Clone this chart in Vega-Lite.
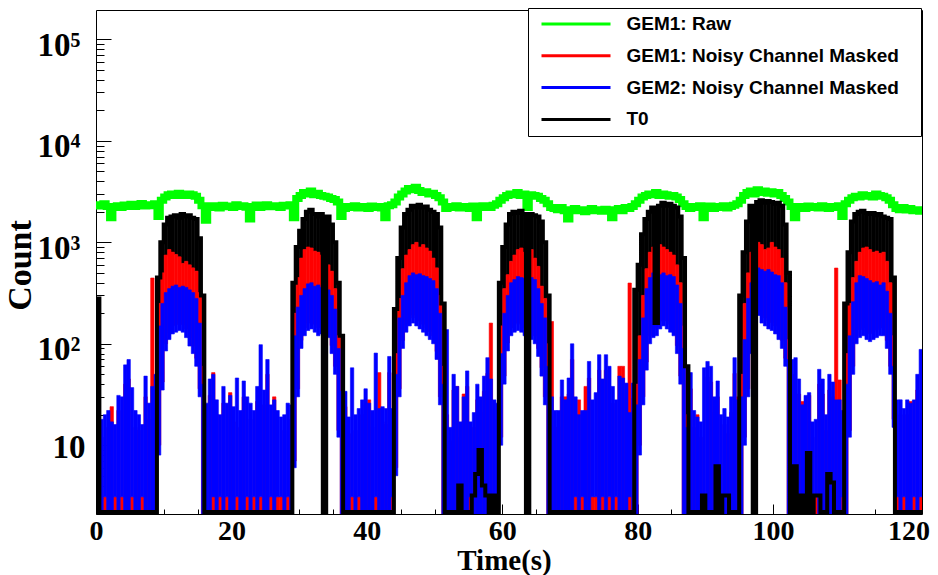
{
  "$schema": "https://vega.github.io/schema/vega-lite/v6.json",
  "width": 826,
  "height": 504,
  "autosize": "none",
  "padding": {"left": 96, "top": 10, "right": 16, "bottom": 61},
  "background": "white",
  "data": {"values": [
    {"t":0,"g":2350,"k":280,"rh":1,"rl":1,"bh":1,"bl":1},
    {"t":0.5,"g":2280,"k":2.2,"rh":12,"rl":1,"bh":18,"bl":1},
    {"t":1,"g":2400,"k":2.2,"rh":3.1,"rl":1,"bh":20,"bl":3.1},
    {"t":1.5,"g":2250,"k":2.2,"rh":15,"rl":1,"bh":22,"bl":1},
    {"t":2,"g":1750,"k":2.2,"rh":24,"rl":1,"bh":17,"bl":1},
    {"t":2.5,"g":2220,"k":2.2,"rh":3.1,"rl":1,"bh":16,"bl":3.1},
    {"t":3,"g":2300,"k":2.2,"rh":22,"rl":1,"bh":31,"bl":1},
    {"t":3.5,"g":2200,"k":2.2,"rh":3.1,"rl":1,"bh":30,"bl":3.1},
    {"t":4,"g":2330,"k":2.2,"rh":40,"rl":1,"bh":62,"bl":1},
    {"t":4.5,"g":2250,"k":2.2,"rh":45,"rl":1,"bh":70,"bl":1},
    {"t":5,"g":2380,"k":2.2,"rh":3.1,"rl":1,"bh":37,"bl":3.1},
    {"t":5.5,"g":2260,"k":2.2,"rh":15,"rl":1,"bh":22,"bl":1},
    {"t":6,"g":2310,"k":2.2,"rh":14,"rl":1,"bh":20,"bl":1},
    {"t":6.5,"g":2420,"k":2.2,"rh":3.1,"rl":1,"bh":16,"bl":3.1},
    {"t":7,"g":2280,"k":2.2,"rh":30,"rl":1,"bh":48,"bl":1},
    {"t":7.5,"g":2350,"k":2.2,"rh":18,"rl":1,"bh":26,"bl":1},
    {"t":8,"g":2300,"k":2.2,"rh":445,"rl":1,"bh":38,"bl":1},
    {"t":8.5,"g":2400,"k":2.2,"rh":35,"rl":1,"bh":50,"bl":1},
    {"t":9,"g":1800,"k":450,"rh":250,"rl":10,"bh":150,"bl":8},
    {"t":9.5,"g":2600,"k":1000,"rh":500,"rl":42,"bh":250,"bl":35},
    {"t":10,"g":2800,"k":1500,"rh":750,"rl":100,"bh":320,"bl":85},
    {"t":10.5,"g":2950,"k":1750,"rh":850,"rl":130,"bh":350,"bl":110},
    {"t":11,"g":3000,"k":1800,"rh":800,"rl":150,"bh":370,"bl":125},
    {"t":11.5,"g":2900,"k":1850,"rh":760,"rl":155,"bh":380,"bl":130},
    {"t":12,"g":3050,"k":1750,"rh":720,"rl":160,"bh":360,"bl":135},
    {"t":12.5,"g":2950,"k":1900,"rh":620,"rl":155,"bh":370,"bl":130},
    {"t":13,"g":2900,"k":1800,"rh":650,"rl":140,"bh":360,"bl":115},
    {"t":13.5,"g":3000,"k":1850,"rh":600,"rl":115,"bh":340,"bl":95},
    {"t":14,"g":2950,"k":1750,"rh":560,"rl":95,"bh":320,"bl":80},
    {"t":14.5,"g":2850,"k":1700,"rh":520,"rl":72,"bh":280,"bl":60},
    {"t":15,"g":2600,"k":1100,"rh":320,"rl":36,"bh":160,"bl":30},
    {"t":15.5,"g":2300,"k":300,"rh":60,"rl":1,"bh":40,"bl":1},
    {"t":16,"g":1650,"k":2.2,"rh":18,"rl":1,"bh":26,"bl":1},
    {"t":16.5,"g":2200,"k":2.2,"rh":31,"rl":1,"bh":45,"bl":1},
    {"t":17,"g":2300,"k":2.2,"rh":52,"rl":1,"bh":50,"bl":3.1},
    {"t":17.5,"g":2250,"k":2.2,"rh":20,"rl":1,"bh":28,"bl":1},
    {"t":18,"g":2180,"k":2.2,"rh":3.1,"rl":1,"bh":20,"bl":3.1},
    {"t":18.5,"g":2320,"k":2.2,"rh":26,"rl":1,"bh":38,"bl":1},
    {"t":19,"g":2240,"k":2.2,"rh":3.1,"rl":1,"bh":26,"bl":3.1},
    {"t":19.5,"g":2280,"k":2.2,"rh":33,"rl":1,"bh":31,"bl":1},
    {"t":20,"g":2200,"k":2.2,"rh":17,"rl":1,"bh":24,"bl":1},
    {"t":20.5,"g":2350,"k":2.2,"rh":3.1,"rl":1,"bh":46,"bl":3.1},
    {"t":21,"g":2260,"k":2.2,"rh":15,"rl":1,"bh":22,"bl":1},
    {"t":21.5,"g":2300,"k":2.2,"rh":30,"rl":1,"bh":43,"bl":1},
    {"t":22,"g":2220,"k":2.2,"rh":3.1,"rl":1,"bh":30,"bl":3.1},
    {"t":22.5,"g":1700,"k":2.2,"rh":18,"rl":1,"bh":26,"bl":1},
    {"t":23,"g":2250,"k":2.2,"rh":3.1,"rl":1,"bh":22,"bl":3.1},
    {"t":23.5,"g":2330,"k":2.2,"rh":27,"rl":1,"bh":38,"bl":1},
    {"t":24,"g":2200,"k":2.2,"rh":3.1,"rl":1,"bh":98,"bl":3.1},
    {"t":24.5,"g":2280,"k":2.2,"rh":25,"rl":1,"bh":35,"bl":1},
    {"t":25,"g":2350,"k":2.2,"rh":50,"rl":1,"bh":70,"bl":1},
    {"t":25.5,"g":2240,"k":2.2,"rh":3.1,"rl":1,"bh":25,"bl":3.1},
    {"t":26,"g":2300,"k":2.2,"rh":30,"rl":1,"bh":28,"bl":1},
    {"t":26.5,"g":2260,"k":2.2,"rh":3.1,"rl":1,"bh":22,"bl":3.1},
    {"t":27,"g":2200,"k":2.2,"rh":3.1,"rl":1,"bh":19,"bl":3.1},
    {"t":27.5,"g":2320,"k":2.2,"rh":14,"rl":1,"bh":20,"bl":1},
    {"t":28,"g":2280,"k":2.2,"rh":3.1,"rl":1,"bh":26,"bl":3.1},
    {"t":28.5,"g":2350,"k":2.2,"rh":18,"rl":1,"bh":25,"bl":1},
    {"t":29,"g":1750,"k":400,"rh":200,"rl":7,"bh":120,"bl":6},
    {"t":29.5,"g":2700,"k":900,"rh":450,"rl":36,"bh":230,"bl":30},
    {"t":30,"g":2900,"k":1300,"rh":700,"rl":108,"bh":300,"bl":90},
    {"t":30.5,"g":3100,"k":1700,"rh":850,"rl":144,"bh":350,"bl":120},
    {"t":31,"g":3000,"k":2000,"rh":900,"rl":160,"bh":390,"bl":135},
    {"t":31.5,"g":3200,"k":2100,"rh":880,"rl":168,"bh":400,"bl":140},
    {"t":32,"g":2950,"k":1900,"rh":820,"rl":156,"bh":370,"bl":130},
    {"t":32.5,"g":3050,"k":1800,"rh":800,"rl":144,"bh":380,"bl":120},
    {"t":33,"g":2900,"k":1900,"rh":750,"rl":150,"bh":360,"bl":125},
    {"t":33.5,"g":2850,"k":2.2,"rh":700,"rl":156,"bh":350,"bl":130},
    {"t":34,"g":2800,"k":1800,"rh":600,"rl":138,"bh":340,"bl":115},
    {"t":34.5,"g":2700,"k":1500,"rh":520,"rl":96,"bh":300,"bl":80},
    {"t":35,"g":2650,"k":1000,"rh":350,"rl":60,"bh":220,"bl":50},
    {"t":35.5,"g":2500,"k":400,"rh":120,"rl":14,"bh":90,"bl":12},
    {"t":36,"g":1800,"k":120,"rh":30,"rl":1,"bh":34,"bl":1},
    {"t":36.5,"g":2150,"k":2.2,"rh":24,"rl":1,"bh":34,"bl":1},
    {"t":37,"g":2250,"k":2.2,"rh":13,"rl":1,"bh":19,"bl":1},
    {"t":37.5,"g":2200,"k":2.2,"rh":3.1,"rl":1,"bh":58,"bl":3.1},
    {"t":38,"g":2300,"k":2.2,"rh":14,"rl":1,"bh":20,"bl":1},
    {"t":38.5,"g":2180,"k":2.2,"rh":3.1,"rl":1,"bh":23,"bl":3.1},
    {"t":39,"g":2250,"k":2.2,"rh":20,"rl":1,"bh":28,"bl":1},
    {"t":39.5,"g":2220,"k":2.2,"rh":25,"rl":1,"bh":36,"bl":1},
    {"t":40,"g":2150,"k":2.2,"rh":28,"rl":1,"bh":26,"bl":1},
    {"t":40.5,"g":2280,"k":2.2,"rh":15,"rl":1,"bh":22,"bl":1},
    {"t":41,"g":2200,"k":2.2,"rh":3.1,"rl":1,"bh":81,"bl":3.1},
    {"t":41.5,"g":2250,"k":2.2,"rh":52,"rl":1,"bh":23,"bl":1},
    {"t":42,"g":2180,"k":2.2,"rh":17,"rl":1,"bh":24,"bl":1},
    {"t":42.5,"g":1750,"k":2.2,"rh":16,"rl":1,"bh":23,"bl":1},
    {"t":43,"g":2300,"k":2.2,"rh":52,"rl":1,"bh":75,"bl":1},
    {"t":43.5,"g":2350,"k":2.2,"rh":3.1,"rl":1,"bh":23,"bl":3.1},
    {"t":44,"g":2500,"k":220,"rh":80,"rl":6,"bh":50,"bl":5},
    {"t":44.5,"g":2800,"k":700,"rh":280,"rl":36,"bh":180,"bl":30},
    {"t":45,"g":3000,"k":1400,"rh":550,"rl":108,"bh":300,"bl":90},
    {"t":45.5,"g":3200,"k":1900,"rh":750,"rl":156,"bh":400,"bl":130},
    {"t":46,"g":3400,"k":2100,"rh":850,"rl":180,"bh":470,"bl":150},
    {"t":46.5,"g":3300,"k":2300,"rh":950,"rl":192,"bh":500,"bl":160},
    {"t":47,"g":3500,"k":2200,"rh":1000,"rl":180,"bh":480,"bl":150},
    {"t":47.5,"g":3250,"k":2350,"rh":900,"rl":168,"bh":490,"bl":140},
    {"t":48,"g":3100,"k":2200,"rh":950,"rl":156,"bh":470,"bl":130},
    {"t":48.5,"g":3150,"k":2250,"rh":880,"rl":144,"bh":460,"bl":120},
    {"t":49,"g":3000,"k":2100,"rh":820,"rl":132,"bh":440,"bl":110},
    {"t":49.5,"g":3050,"k":2000,"rh":700,"rl":120,"bh":420,"bl":100},
    {"t":50,"g":2900,"k":1900,"rh":560,"rl":84,"bh":350,"bl":70},
    {"t":50.5,"g":2750,"k":1400,"rh":300,"rl":30,"bh":200,"bl":25},
    {"t":51,"g":2500,"k":250,"rh":60,"rl":1,"bh":40,"bl":1},
    {"t":51.5,"g":2150,"k":2.2,"rh":20,"rl":1,"bh":138,"bl":1},
    {"t":52,"g":2250,"k":2.2,"rh":11,"rl":1,"bh":15,"bl":1},
    {"t":52.5,"g":2200,"k":2.2,"rh":35,"rl":1,"bh":50,"bl":1},
    {"t":53,"g":2300,"k":2.2,"rh":38,"rl":1,"bh":38,"bl":1},
    {"t":53.5,"g":2180,"k":4,"rh":12,"rl":1,"bh":17,"bl":1},
    {"t":54,"g":2250,"k":2.2,"rh":32,"rl":1,"bh":30,"bl":1},
    {"t":54.5,"g":2220,"k":2.2,"rh":38,"rl":1,"bh":54,"bl":1},
    {"t":55,"g":2150,"k":2.2,"rh":3.1,"rl":1,"bh":17,"bl":3.1},
    {"t":55.5,"g":2280,"k":3.2,"rh":15,"rl":1,"bh":21,"bl":1},
    {"t":56,"g":1750,"k":5.2,"rh":28,"rl":1,"bh":40,"bl":1},
    {"t":56.5,"g":2200,"k":9,"rh":21,"rl":1,"bh":30,"bl":1},
    {"t":57,"g":2300,"k":4,"rh":34,"rl":1,"bh":48,"bl":1},
    {"t":57.5,"g":2250,"k":3.2,"rh":51,"rl":1,"bh":73,"bl":1},
    {"t":58,"g":2200,"k":2.2,"rh":160,"rl":1,"bh":45,"bl":3.1},
    {"t":58.5,"g":2320,"k":3.2,"rh":3.1,"rl":1,"bh":28,"bl":3.1},
    {"t":59,"g":2400,"k":2.2,"rh":18,"rl":1,"bh":26,"bl":1},
    {"t":59.5,"g":2600,"k":400,"rh":150,"rl":12,"bh":80,"bl":10},
    {"t":60,"g":2750,"k":900,"rh":350,"rl":48,"bh":200,"bl":40},
    {"t":60.5,"g":2900,"k":1500,"rh":480,"rl":102,"bh":300,"bl":85},
    {"t":61,"g":3000,"k":1900,"rh":650,"rl":144,"bh":400,"bl":120},
    {"t":61.5,"g":2950,"k":2000,"rh":750,"rl":156,"bh":430,"bl":130},
    {"t":62,"g":3100,"k":1950,"rh":850,"rl":162,"bh":460,"bl":135},
    {"t":62.5,"g":2900,"k":2050,"rh":880,"rl":156,"bh":450,"bl":130},
    {"t":63,"g":3000,"k":1900,"rh":800,"rl":144,"bh":440,"bl":120},
    {"t":63.5,"g":2200,"k":2.2,"rh":820,"rl":144,"bh":420,"bl":120},
    {"t":64,"g":2950,"k":1900,"rh":850,"rl":132,"bh":450,"bl":110},
    {"t":64.5,"g":2900,"k":1850,"rh":700,"rl":120,"bh":430,"bl":100},
    {"t":65,"g":2850,"k":1800,"rh":580,"rl":90,"bh":350,"bl":75},
    {"t":65.5,"g":2700,"k":1600,"rh":370,"rl":58,"bh":250,"bl":48},
    {"t":66,"g":2600,"k":1000,"rh":280,"rl":30,"bh":180,"bl":25},
    {"t":66.5,"g":2400,"k":300,"rh":100,"rl":1,"bh":60,"bl":1},
    {"t":67,"g":2200,"k":2.2,"rh":166,"rl":1,"bh":30,"bl":1},
    {"t":67.5,"g":2150,"k":2.2,"rh":15,"rl":1,"bh":22,"bl":1},
    {"t":68,"g":2100,"k":2.2,"rh":15,"rl":1,"bh":22,"bl":1},
    {"t":68.5,"g":2200,"k":2.2,"rh":30,"rl":1,"bh":44,"bl":1},
    {"t":69,"g":2050,"k":2.2,"rh":30,"rl":1,"bh":28,"bl":1},
    {"t":69.5,"g":1700,"k":2.2,"rh":32,"rl":1,"bh":46,"bl":1},
    {"t":70,"g":2100,"k":2.2,"rh":70,"rl":1,"bh":100,"bl":1},
    {"t":70.5,"g":2150,"k":2.2,"rh":3.1,"rl":1,"bh":30,"bl":3.1},
    {"t":71,"g":2050,"k":2.2,"rh":28,"rl":1,"bh":20,"bl":1},
    {"t":71.5,"g":2100,"k":2.2,"rh":3.1,"rl":1,"bh":22,"bl":3.1},
    {"t":72,"g":2000,"k":2.2,"rh":38,"rl":1,"bh":22,"bl":1},
    {"t":72.5,"g":2080,"k":2.2,"rh":46,"rl":1,"bh":67,"bl":1},
    {"t":73,"g":2150,"k":2.2,"rh":3.1,"rl":1,"bh":28,"bl":3.1},
    {"t":73.5,"g":2050,"k":2.2,"rh":3.1,"rl":1,"bh":33,"bl":3.1},
    {"t":74,"g":2100,"k":2.2,"rh":55,"rl":1,"bh":78,"bl":1},
    {"t":74.5,"g":2020,"k":2.2,"rh":3.1,"rl":1,"bh":45,"bl":3.1},
    {"t":75,"g":2120,"k":2.2,"rh":55,"rl":1,"bh":78,"bl":1},
    {"t":75.5,"g":2080,"k":2.2,"rh":3.1,"rl":1,"bh":60,"bl":3.1},
    {"t":76,"g":1750,"k":2.2,"rh":26,"rl":1,"bh":38,"bl":1},
    {"t":76.5,"g":2100,"k":2.2,"rh":3.1,"rl":1,"bh":28,"bl":3.1},
    {"t":77,"g":2150,"k":2.2,"rh":60,"rl":1,"bh":48,"bl":1},
    {"t":77.5,"g":2050,"k":2.2,"rh":60,"rl":1,"bh":46,"bl":1},
    {"t":78,"g":2200,"k":2.2,"rh":29,"rl":1,"bh":41,"bl":1},
    {"t":78.5,"g":2150,"k":2.2,"rh":397,"rl":1,"bh":21,"bl":3.1},
    {"t":79,"g":2250,"k":2.2,"rh":29,"rl":1,"bh":41,"bl":1},
    {"t":79.5,"g":2400,"k":340,"rh":40,"rl":1,"bh":25,"bl":1},
    {"t":80,"g":2600,"k":600,"rh":120,"rl":10,"bh":70,"bl":8},
    {"t":80.5,"g":2800,"k":1200,"rh":300,"rl":30,"bh":180,"bl":25},
    {"t":81,"g":2900,"k":1700,"rh":550,"rl":66,"bh":350,"bl":55},
    {"t":81.5,"g":3000,"k":2000,"rh":800,"rl":120,"bh":450,"bl":100},
    {"t":82,"g":2950,"k":2200,"rh":900,"rl":138,"bh":500,"bl":115},
    {"t":82.5,"g":3100,"k":160,"rh":850,"rl":144,"bh":520,"bl":120},
    {"t":83,"g":2900,"k":2300,"rh":950,"rl":168,"bh":480,"bl":140},
    {"t":83.5,"g":3000,"k":2450,"rh":900,"rl":180,"bh":500,"bl":150},
    {"t":84,"g":2950,"k":2300,"rh":850,"rl":168,"bh":470,"bl":140},
    {"t":84.5,"g":2850,"k":2400,"rh":800,"rl":156,"bh":480,"bl":130},
    {"t":85,"g":2900,"k":2300,"rh":750,"rl":144,"bh":460,"bl":120},
    {"t":85.5,"g":2800,"k":2200,"rh":600,"rl":96,"bh":380,"bl":80},
    {"t":86,"g":2650,"k":1800,"rh":400,"rl":48,"bh":250,"bl":40},
    {"t":86.5,"g":2400,"k":700,"rh":150,"rl":1,"bh":90,"bl":1},
    {"t":87,"g":2250,"k":60,"rh":20,"rl":1,"bh":15,"bl":1},
    {"t":87.5,"g":2150,"k":2.2,"rh":36,"rl":1,"bh":52,"bl":1},
    {"t":88,"g":2250,"k":2.2,"rh":15,"rl":1,"bh":22,"bl":1},
    {"t":88.5,"g":2200,"k":2.2,"rh":20,"rl":1,"bh":19,"bl":1},
    {"t":89,"g":2300,"k":2.2,"rh":12,"rl":1,"bh":17,"bl":1},
    {"t":89.5,"g":1750,"k":3.2,"rh":3.1,"rl":1,"bh":58,"bl":3.1},
    {"t":90,"g":2200,"k":2.2,"rh":47,"rl":1,"bh":67,"bl":1},
    {"t":90.5,"g":2280,"k":2.2,"rh":42,"rl":1,"bh":60,"bl":1},
    {"t":91,"g":2150,"k":2.2,"rh":21,"rl":1,"bh":30,"bl":1},
    {"t":91.5,"g":2250,"k":6.2,"rh":30,"rl":1,"bh":43,"bl":1},
    {"t":92,"g":2200,"k":2.2,"rh":3.1,"rl":1,"bh":20,"bl":3.1},
    {"t":92.5,"g":2300,"k":3.2,"rh":16,"rl":1,"bh":23,"bl":1},
    {"t":93,"g":2180,"k":3.2,"rh":13,"rl":1,"bh":19,"bl":1},
    {"t":93.5,"g":2250,"k":2.2,"rh":21,"rl":1,"bh":30,"bl":1},
    {"t":94,"g":2320,"k":2.2,"rh":51,"rl":1,"bh":73,"bl":1},
    {"t":94.5,"g":2400,"k":2.2,"rh":30,"rl":1,"bh":28,"bl":1},
    {"t":95,"g":2600,"k":300,"rh":50,"rl":1,"bh":30,"bl":1},
    {"t":95.5,"g":2900,"k":800,"rh":250,"rl":12,"bh":110,"bl":10},
    {"t":96,"g":3100,"k":1600,"rh":500,"rl":36,"bh":280,"bl":30},
    {"t":96.5,"g":3200,"k":2300,"rh":800,"rl":96,"bh":400,"bl":80},
    {"t":97,"g":3000,"k":2.2,"rh":1100,"rl":204,"bh":580,"bl":170},
    {"t":97.5,"g":3300,"k":2500,"rh":1000,"rl":228,"bh":560,"bl":190},
    {"t":98,"g":3100,"k":2600,"rh":950,"rl":192,"bh":540,"bl":160},
    {"t":98.5,"g":3200,"k":2450,"rh":850,"rl":180,"bh":520,"bl":150},
    {"t":99,"g":3050,"k":2550,"rh":880,"rl":168,"bh":540,"bl":140},
    {"t":99.5,"g":3150,"k":2500,"rh":1000,"rl":162,"bh":510,"bl":135},
    {"t":100,"g":3000,"k":2400,"rh":900,"rl":150,"bh":480,"bl":125},
    {"t":100.5,"g":3100,"k":2450,"rh":850,"rl":132,"bh":470,"bl":110},
    {"t":101,"g":2900,"k":2300,"rh":700,"rl":108,"bh":400,"bl":90},
    {"t":101.5,"g":2700,"k":1500,"rh":400,"rl":72,"bh":230,"bl":60},
    {"t":102,"g":2500,"k":500,"rh":110,"rl":1,"bh":70,"bl":1},
    {"t":102.5,"g":2250,"k":2.2,"rh":50,"rl":1,"bh":70,"bl":1},
    {"t":103,"g":1750,"k":6.2,"rh":3.1,"rl":1,"bh":73,"bl":3.1},
    {"t":103.5,"g":2200,"k":2.2,"rh":32,"rl":1,"bh":45,"bl":1},
    {"t":104,"g":2250,"k":3.2,"rh":27,"rl":1,"bh":25,"bl":1},
    {"t":104.5,"g":2150,"k":2.2,"rh":22,"rl":1,"bh":31,"bl":1},
    {"t":105,"g":2280,"k":8.4,"rh":31,"rl":1,"bh":33,"bl":1},
    {"t":105.5,"g":2200,"k":2.2,"rh":12,"rl":1,"bh":17,"bl":1},
    {"t":106,"g":2250,"k":3.2,"rh":3.1,"rl":1,"bh":18,"bl":3.1},
    {"t":106.5,"g":2180,"k":3.2,"rh":40,"rl":1,"bh":56,"bl":1},
    {"t":107,"g":2300,"k":2.2,"rh":32,"rl":1,"bh":45,"bl":1},
    {"t":107.5,"g":2220,"k":2.2,"rh":14,"rl":1,"bh":20,"bl":1},
    {"t":108,"g":2150,"k":5.2,"rh":35,"rl":1,"bh":50,"bl":1},
    {"t":108.5,"g":2250,"k":4.3,"rh":30,"rl":1,"bh":42,"bl":1},
    {"t":109,"g":2200,"k":2.2,"rh":558,"rl":1,"bh":28,"bl":1},
    {"t":109.5,"g":2300,"k":2.2,"rh":44,"rl":1,"bh":28,"bl":1},
    {"t":110,"g":1800,"k":2.2,"rh":3.1,"rl":1,"bh":22,"bl":3.1},
    {"t":110.5,"g":2400,"k":250,"rh":80,"rl":1,"bh":40,"bl":1},
    {"t":111,"g":2600,"k":800,"rh":250,"rl":14,"bh":120,"bl":12},
    {"t":111.5,"g":2750,"k":1600,"rh":450,"rl":60,"bh":260,"bl":50},
    {"t":112,"g":2850,"k":1900,"rh":650,"rl":120,"bh":400,"bl":100},
    {"t":112.5,"g":2800,"k":2000,"rh":800,"rl":138,"bh":470,"bl":115},
    {"t":113,"g":2950,"k":2050,"rh":880,"rl":144,"bh":460,"bl":120},
    {"t":113.5,"g":2850,"k":1950,"rh":900,"rl":132,"bh":440,"bl":110},
    {"t":114,"g":2900,"k":1900,"rh":850,"rl":126,"bh":420,"bl":105},
    {"t":114.5,"g":2800,"k":1950,"rh":800,"rl":132,"bh":400,"bl":110},
    {"t":115,"g":3000,"k":1850,"rh":820,"rl":138,"bh":410,"bl":115},
    {"t":115.5,"g":2900,"k":1900,"rh":780,"rl":144,"bh":380,"bl":120},
    {"t":116,"g":2850,"k":1800,"rh":800,"rl":144,"bh":400,"bl":120},
    {"t":116.5,"g":2750,"k":1750,"rh":650,"rl":108,"bh":330,"bl":90},
    {"t":117,"g":2600,"k":1700,"rh":400,"rl":60,"bh":200,"bl":50},
    {"t":117.5,"g":2350,"k":450,"rh":120,"rl":18,"bh":60,"bl":15},
    {"t":118,"g":2150,"k":2.2,"rh":3.1,"rl":1,"bh":28,"bl":3.1},
    {"t":118.5,"g":2100,"k":2.2,"rh":20,"rl":1,"bh":28,"bl":1},
    {"t":119,"g":2200,"k":2.2,"rh":3.1,"rl":1,"bh":23,"bl":3.1},
    {"t":119.5,"g":2080,"k":2.2,"rh":20,"rl":1,"bh":28,"bl":1},
    {"t":120,"g":2150,"k":2.2,"rh":27,"rl":1,"bh":26,"bl":1},
    {"t":120.5,"g":2050,"k":2.2,"rh":3.1,"rl":1,"bh":28,"bl":3.1},
    {"t":121,"g":2100,"k":2.2,"rh":35,"rl":1,"bh":50,"bl":1},
    {"t":121.5,"g":2020,"k":2.2,"rh":3.1,"rl":1,"bh":88,"bl":3.1},
    {"t":122,"g":2020,"k":2.2}
  ]},
  "layer": [
    {
      "mark": {"type": "line", "interpolate": "step-after", "strokeWidth": 7, "clip": true},
      "encoding": {
        "x": {
          "field": "t", "type": "quantitative",
          "scale": {"domain": [0, 122], "nice": false, "zero": false},
          "axis": {
            "title": "Time(s)",
            "values": [0,5,10,15,20,25,30,35,40,45,50,55,60,65,70,75,80,85,90,95,100,105,110,115,120],
            "format": "d",
            "labelExpr": "datum.value % 20 === 0 ? datum.label : ''",
            "tickSize": {"condition": {"test": "datum.value % 20 === 0", "value": -10}, "value": -5},
            "labelPadding": 13,
            "domain": false, "grid": false,
            "tickColor": "black", "tickWidth": 1,
            "labelFont": "Liberation Serif", "labelFontWeight": "bold", "labelFontSize": 28, "labelColor": "black",
            "labelFlush": false, "labelOverlap": false, "labelBound": false,
            "titleFont": "Liberation Serif", "titleFontWeight": "bold", "titleFontSize": 29, "titleColor": "black",
            "titleX": 408, "titleY": 55, "titleAlign": "center", "titleBaseline": "alphabetic"
          }
        },
        "y": {
          "field": "g", "type": "quantitative",
          "scale": {"type": "log", "domain": [2.1, 195000], "nice": false},
          "axis": {
            "title": "Count",
            "values": [3,4,5,6,7,8,9,10,20,30,40,50,60,70,80,90,100,200,300,400,500,600,700,800,900,1000,2000,3000,4000,5000,6000,7000,8000,9000,10000,20000,30000,40000,50000,60000,70000,80000,90000,100000],
            "labelExpr": "datum.value == 10 ? '10' : datum.value == 100 ? '10\u00b2' : datum.value == 1000 ? '10\u00b3' : datum.value == 10000 ? '10\u2074' : datum.value == 100000 ? '10\u2075' : ''",
            "tickSize": {"condition": {"test": "indexof([10,100,1000,10000,100000], datum.value) >= 0", "value": -15}, "value": -8},
            "labelPadding": {"condition": {"test": "datum.value == 10", "value": 26}, "value": 31},
            "labelOffset": {"condition": {"test": "datum.value == 10", "value": 2}, "value": 6},
            "domain": false, "grid": false,
            "tickColor": "black", "tickWidth": 1,
            "labelFont": "Liberation Serif", "labelFontWeight": "bold", "labelFontSize": 33, "labelColor": "black",
            "labelAlign": "right", "labelBaseline": "middle",
            "labelFlush": false, "labelOverlap": false, "labelBound": false,
            "titleFont": "Liberation Serif", "titleFontWeight": "bold", "titleFontSize": 34, "titleColor": "black",
            "titleAngle": 270, "titleX": -66, "titleY": 255, "titleAlign": "center", "titleBaseline": "alphabetic"
          }
        },
        "color": {
          "datum": "GEM1: Raw", "type": "nominal",
          "scale": {
            "domain": ["GEM1: Raw", "GEM1: Noisy Channel Masked", "GEM2: Noisy Channel Masked", "T0"],
            "range": ["#00ff00", "#ff0000", "#0000ff", "#000000"]
          },
          "legend": {
            "orient": "none", "legendX": 432, "legendY": -2,
            "title": "\u00a0", "titleOrient": "right", "titlePadding": 16, "titleFontSize": 19,
            "fillColor": "white", "strokeColor": "black", "cornerRadius": 0,
            "padding": 6.5, "rowPadding": 11.8,
            "labelFont": "Liberation Sans", "labelFontWeight": "bold", "labelFontSize": 19, "labelColor": "black",
            "labelLimit": 0, "labelOffset": 41,
            "symbolType": "M-5.75,0H5.75", "symbolSize": 144, "symbolStrokeWidth": 3, "symbolOffset": 32,
            "encode": {"symbols": {"update": {"stroke": {"scale": "color", "field": "value"}, "fill": {"value": "transparent"}}}}
          }
        }
      }
    },
    {
      "transform": [{"filter": "datum.k > datum.rh"}],
      "mark": {"type": "bar", "binSpacing": 0, "clip": true, "stroke": "#000000", "strokeWidth": 0.6},
      "encoding": {
        "x": {"field": "t", "type": "quantitative", "bin": {"step": 0.5, "extent": [0, 122]}},
        "y": {"field": "k", "type": "quantitative", "scale": {"type": "log"}},
        "y2": {"field": "rh"},
        "color": {"datum": "T0", "type": "nominal"}
      }
    },
    {
      "mark": {"type": "bar", "binSpacing": 0, "clip": true, "stroke": "#ff0000", "strokeWidth": 0.6},
      "encoding": {
        "x": {"field": "t", "type": "quantitative", "bin": {"step": 0.5, "extent": [0, 122]}},
        "y": {"field": "rh", "type": "quantitative", "scale": {"type": "log"}},
        "y2": {"field": "rl"},
        "color": {"datum": "GEM1: Noisy Channel Masked", "type": "nominal"}
      }
    },
    {
      "mark": {"type": "bar", "binSpacing": 0, "clip": true, "stroke": "#0000ff", "strokeWidth": 0.6},
      "encoding": {
        "x": {"field": "t", "type": "quantitative", "bin": {"step": 0.5, "extent": [0, 122]}},
        "y": {"field": "bh", "type": "quantitative", "scale": {"type": "log"}},
        "y2": {"field": "bl"},
        "color": {"datum": "GEM2: Noisy Channel Masked", "type": "nominal"}
      }
    },
    {
      "mark": {"type": "line", "interpolate": "step-after", "strokeWidth": 4, "clip": true},
      "encoding": {
        "x": {"field": "t", "type": "quantitative"},
        "y": {"field": "k", "type": "quantitative", "scale": {"type": "log"}},
        "color": {"datum": "T0", "type": "nominal"}
      }
    }
  ],
  "config": {
    "view": {"stroke": "black", "strokeWidth": 1}
  }
}
